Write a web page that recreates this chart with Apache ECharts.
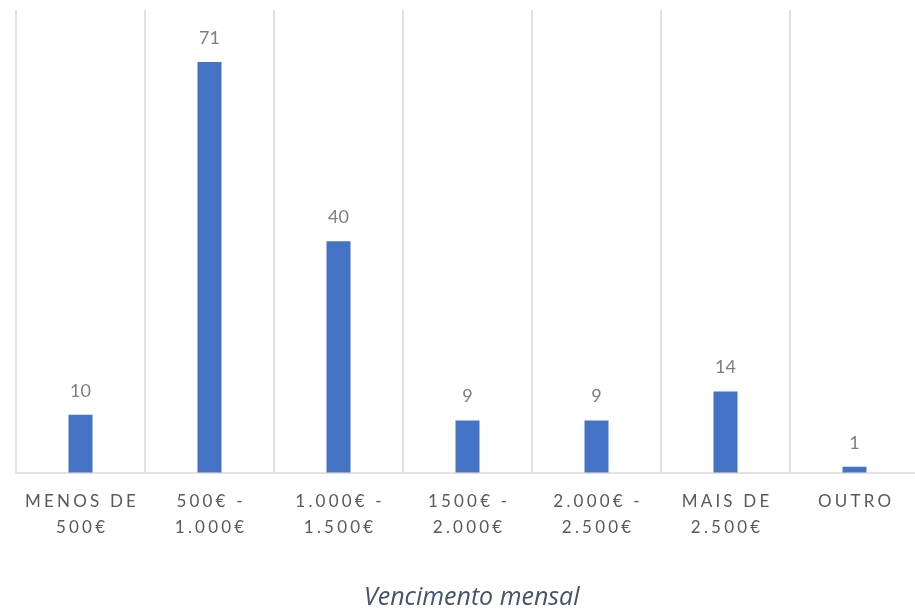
<!DOCTYPE html>
<html>
<head>
<meta charset="utf-8">
<script src="https://cdn.jsdelivr.net/npm/echarts@6/dist/echarts.min.js"></script>
<style>
html,body{margin:0;padding:0;background:#fff;}
#c{width:915px;height:613px;}
</style>
</head>
<body>
<div id="c"></div>
<script>
var categories = ["MENOS DE\n500€", "500€ -\n1.000€", "1.000€ -\n1.500€", "1500€ -\n2.000€", "2.000€ -\n2.500€", "MAIS DE\n2.500€", "OUTRO"];
var values = [10, 71, 40, 9, 9, 14, 1];
var axisTitle = "Vencimento mensal";

function spaced(s) {
  return s.split("\n").map(function (line) {
    return Array.from(line).join("\u2009\u200A");
  }).join("\n");
}

var chart = echarts.init(document.getElementById('c'));
chart.setOption({
  backgroundColor: '#ffffff',
  animation: false,
  grid: { left: 16, width: 903, top: 10, bottom: 140.5, containLabel: false, outerBoundsMode: 'none' },
  title: {
    text: axisTitle,
    left: 359,
    top: 580,
    textStyle: { fontFamily: 'Open Sans', fontStyle: 'italic', fontWeight: 'normal', fontSize: 25, color: '#44546A' }
  },
  xAxis: {
    type: 'category',
    data: categories.map(spaced),
    axisLine: { lineStyle: { color: '#D9D9D9', width: 1.5 } },
    axisTick: { show: false },
    splitLine: { show: true, interval: 0, lineStyle: { color: '#D9D9D9', width: 1.5 } },
    axisLabel: {
      interval: 0,
      margin: 16,
      color: '#595959',
      fontFamily: 'Lato',
      fontSize: 17,
      lineHeight: 26
    }
  },
  yAxis: {
    type: 'value',
    min: 0,
    max: 80,
    show: false,
    splitLine: { show: false }
  },
  series: [{
    type: 'bar',
    data: values,
    barWidth: 24,
    itemStyle: { color: '#4472C4' },
    label: {
      show: true,
      position: 'top',
      distance: 14,
      color: '#7F7F7F',
      fontFamily: 'Lato',
      fontSize: 18,
      lineHeight: 20
    }
  }]
});
</script>
</body>
</html>
